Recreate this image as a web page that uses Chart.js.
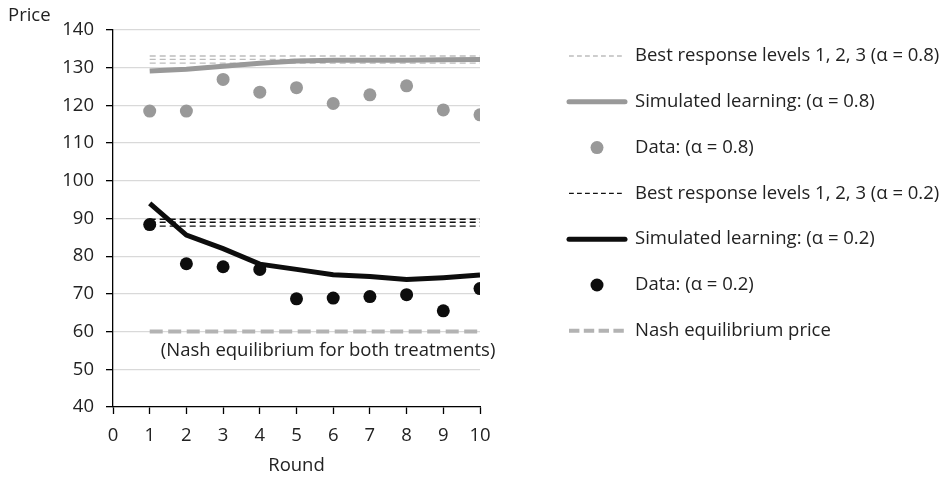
<!DOCTYPE html>
<html>
<head>
<meta charset="utf-8">
<script src="https://cdn.jsdelivr.net/npm/chart.js@4"></script>
<style>
  html, body { margin: 0; padding: 0; background: #ffffff; }
  #wrap { width: 950px; height: 477px; }
</style>
</head>
<body>
<div id="wrap"><canvas id="c" width="950" height="477"></canvas></div>
<script>
// Rounds of play
const rounds = [1, 2, 3, 4, 5, 6, 7, 8, 9, 10];

// Treatment alpha = 0.8
const dataHigh = [118.5, 118.5, 126.9, 123.5, 124.7, 120.5, 122.8, 125.2, 118.8, 117.5];
const simHigh  = [129.1, 129.6, 130.4, 131.2, 131.8, 132.0, 132.0, 132.0, 132.1, 132.2];
const bestHigh = [133.1, 132.2, 131.2];   // best response levels 1, 2, 3

// Treatment alpha = 0.2
const dataLow  = [88.4, 78.0, 77.2, 76.5, 68.7, 68.9, 69.3, 69.8, 65.5, 71.4];
const simLow   = [94.0, 85.6, 82.0, 77.9, 76.5, 75.1, 74.6, 73.8, 74.3, 75.0];
const bestLow  = [89.8, 89.0, 88.0];      // best response levels 1, 2, 3

// Nash equilibrium price (same for both treatments)
const nashPrice = 60;

// Axis ranges / tick spacing
const xRange = [0, 10];
const yRange = [40, 140];
const yStep = 10;

// Text
const yTitle = 'Price';
const xTitle = 'Round';
const nashNote = '(Nash equilibrium for both treatments)';
const legendLabels = [
  'Best response levels 1, 2, 3 (\u03B1 = 0.8)',
  'Simulated learning: (\u03B1 = 0.8)',
  'Data: (\u03B1 = 0.8)',
  'Best response levels 1, 2, 3 (\u03B1 = 0.2)',
  'Simulated learning: (\u03B1 = 0.2)',
  'Data: (\u03B1 = 0.2)',
  'Nash equilibrium price'
];

const FONT = '"Open Sans", "Liberation Sans", sans-serif';
const FONT_SIZE = 18.5;
const TEXT = '#222222';

const series = vals => rounds.map((r, i) => ({ x: r, y: vals[i] }));
const flat = v => [{ x: rounds[0], y: v }, { x: rounds[rounds.length - 1], y: v }];

const pointSet = (vals, color) => ({
  data: series(vals), showLine: false, pointRadius: 6.5, pointHoverRadius: 6.5,
  pointBackgroundColor: color, pointBorderWidth: 0, borderColor: color, backgroundColor: color
});
const lineSet = (data, color, width, dash) => ({
  data, borderColor: color, borderWidth: width, borderDash: dash || [],
  pointRadius: 0, tension: 0, fill: false, borderCapStyle: 'butt'
});

const datasets = [
  pointSet(dataHigh, '#999999'),                          // 0
  pointSet(dataLow, '#0d0d0d'),                           // 1
  lineSet(series(simHigh), '#999999', 5),                 // 2
  lineSet(series(simLow), '#0d0d0d', 5),                  // 3
  ...bestHigh.map(v => lineSet(flat(v), '#bdbdbd', 1.3, [6, 4])),   // 4,5,6
  ...bestLow.map(v => lineSet(flat(v), '#111111', 1.3, [6, 4])),    // 7,8,9
  lineSet(flat(nashPrice), '#b3b3b3', 4, [13, 5.5])        // 10
];

// legend entries: label index -> dataset used for the sample
const legendItems = [
  { label: 0, ds: 4, kind: 'line' },
  { label: 1, ds: 2, kind: 'line' },
  { label: 2, ds: 0, kind: 'point' },
  { label: 3, ds: 7, kind: 'line' },
  { label: 4, ds: 3, kind: 'line' },
  { label: 5, ds: 1, kind: 'point' },
  { label: 6, ds: 10, kind: 'line' }
];

const decor = {
  id: 'decor',
  afterDraw(chart) {
    const ctx = chart.ctx;
    const area = chart.chartArea;
    const xs = chart.scales.x, ys = chart.scales.y;
    ctx.save();
    ctx.font = FONT_SIZE + 'px ' + FONT;
    ctx.fillStyle = TEXT;
    ctx.textBaseline = 'middle';

    // axis titles
    ctx.textAlign = 'left';
    ctx.fillText(yTitle, 8, 16);
    ctx.textAlign = 'center';
    ctx.fillText(xTitle, (area.left + area.right) / 2, 466);

    // note under the Nash line
    ctx.fillText(nashNote, xs.getPixelForValue(5.86), ys.getPixelForValue(nashPrice) + 19);

    // legend
    const x0 = 569, x1 = 625, tx = 635, y0 = 56, dy = 45.8;
    legendItems.forEach((it, i) => {
      const y = y0 + i * dy;
      const d = chart.data.datasets[it.ds];
      if (it.kind === 'line') {
        ctx.beginPath();
        ctx.setLineDash(d.borderDash.length ? d.borderDash.map(v => v * 0.8) : []);
        ctx.lineCap = d.borderDash.length ? 'butt' : 'round';
        ctx.strokeStyle = d.borderColor;
        ctx.lineWidth = d.borderWidth;
        ctx.moveTo(x0, y);
        ctx.lineTo(x1, y);
        ctx.stroke();
        ctx.setLineDash([]);
      } else {
        ctx.beginPath();
        ctx.fillStyle = d.pointBackgroundColor;
        ctx.arc((x0 + x1) / 2, y, 6.5, 0, Math.PI * 2);
        ctx.fill();
      }
      ctx.fillStyle = TEXT;
      ctx.textAlign = 'left';
      ctx.fillText(legendLabels[it.label], tx, y);
    });
    ctx.restore();
  }
};

new Chart(document.getElementById('c'), {
  type: 'line',
  data: { datasets },
  plugins: [decor],
  options: {
    responsive: false,
    animation: false,
    events: [],
    layout: { padding: { left: 0, top: 30, right: 470, bottom: 0 } },
    plugins: { legend: { display: false }, tooltip: { enabled: false } },
    scales: {
      x: {
        type: 'linear', min: xRange[0], max: xRange[1],
        ticks: { stepSize: 1, color: TEXT, font: { family: FONT, size: FONT_SIZE }, padding: 11, maxRotation: 0 },
        grid: { drawOnChartArea: false, tickLength: 7, tickColor: '#000', tickWidth: 1.3 },
        border: { color: '#000', width: 1.3 },
        afterFit: s => { s.height = 70; }
      },
      y: {
        min: yRange[0], max: yRange[1],
        ticks: { stepSize: yStep, color: TEXT, font: { family: FONT, size: FONT_SIZE }, padding: 12 },
        grid: { color: '#d9d9d9', lineWidth: 1.3, tickLength: 7, tickColor: '#000', tickWidth: 1.3 },
        border: { color: '#000', width: 1.3 },
        afterFit: s => { s.width = 113; }
      }
    }
  }
});
</script>
</body>
</html>
